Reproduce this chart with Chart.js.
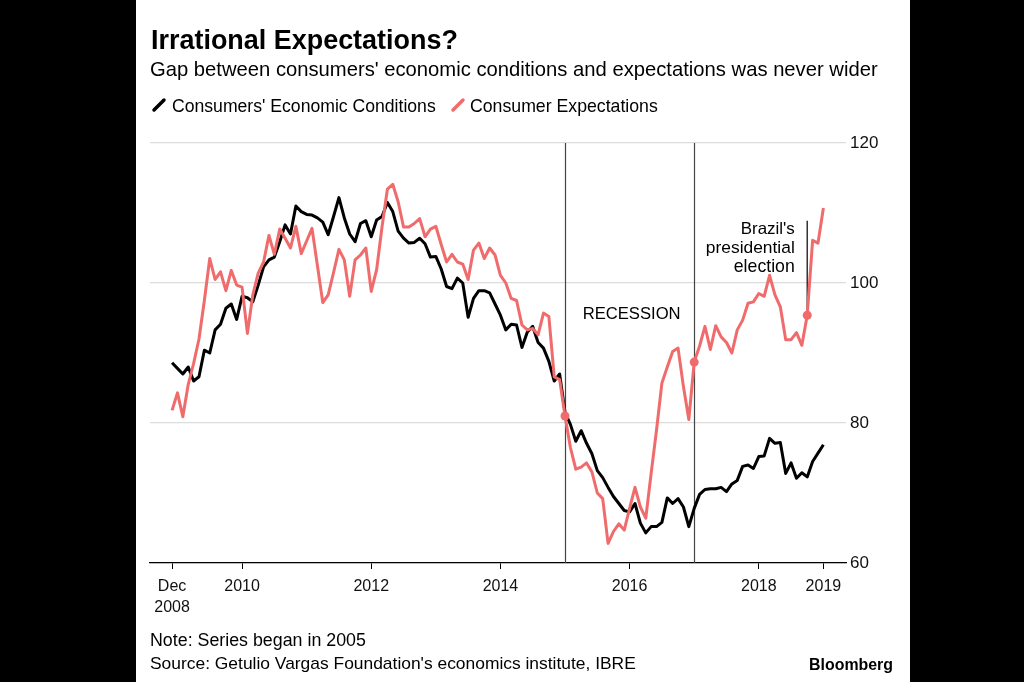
<!DOCTYPE html>
<html>
<head>
<meta charset="utf-8">
<script src="https://cdn.jsdelivr.net/npm/chart.js@4.4.1/dist/chart.umd.min.js"></script>
<style>
html,body{margin:0;padding:0;background:#000;width:1024px;height:682px;overflow:hidden;}
canvas{display:block;}
</style>
</head>
<body>
<canvas id="c" width="1024" height="682"></canvas>
<script>
// ---- data (monthly, Dec 2008 .. Jan 2019) ----
const startYear = 2008, startMonth = 12;
const conditions = [
 88.6,87.8,87.0,88.0,86.0,86.6,90.4,90.0,93.3,94.1,96.4,97.0,
 94.8,98.1,97.9,97.3,99.7,102.3,103.3,103.7,105.9,108.3,107.0,111.0,
 110.2,109.8,109.7,109.3,108.7,106.9,109.5,112.2,109.3,107.0,105.9,108.5,
 108.9,106.6,109.0,109.5,111.5,110.2,107.4,106.4,105.7,105.8,106.4,105.6,
 103.7,103.8,102.0,99.5,99.2,100.7,100.0,95.1,97.8,98.9,98.9,98.6,
 97.0,95.4,93.3,94.1,94.0,90.8,93.0,93.8,91.5,90.7,88.8,86.0,
 87.0,81.5,79.8,77.4,78.9,77.1,75.6,73.2,72.2,70.8,69.5,68.5,
 67.5,67.3,68.5,65.7,64.3,65.2,65.2,65.8,69.3,68.5,69.2,68.0,
 65.2,67.8,69.8,70.5,70.6,70.6,70.8,70.2,71.3,71.8,73.8,74.0,
 73.5,75.2,75.3,77.8,77.1,77.2,72.8,74.3,72.1,72.9,72.3,74.5,
 75.7,76.9
];
const expectations = [
 81.8,84.3,80.9,85.5,88.5,92.0,97.5,103.5,100.5,101.6,98.9,101.8,
 99.7,99.4,92.8,98.3,101.4,103.0,106.8,104.1,107.7,106.4,105.0,108.1,
 104.2,106.0,107.8,102.5,97.2,98.3,101.5,104.8,103.3,98.1,103.3,104.0,
 105.0,98.8,101.9,108.0,113.4,114.1,111.6,108.0,108.0,108.5,109.2,106.6,
 107.7,108.1,105.5,103.0,104.1,103.0,102.7,100.5,104.7,105.7,103.5,105.0,
 104.0,101.1,100.0,97.8,97.5,94.0,93.3,93.5,92.6,95.7,95.2,86.6,
 86.2,81.0,76.5,73.4,73.7,74.3,73.0,70.0,69.2,62.8,64.5,65.6,
 64.7,67.8,70.8,68.0,66.4,72.8,79.0,85.7,88.0,90.2,90.7,85.2,
 80.5,88.7,91.0,93.8,90.5,93.9,92.3,91.5,90.0,93.3,94.7,97.1,
 97.3,98.5,98.1,101.1,98.3,96.6,91.9,91.9,92.9,91.1,95.4,106.1,
 105.7,110.7
];
const markerMonths = ["2015-01","2017-01","2018-10"];
const recessionMonths = ["2015-01","2017-01"];
const electionMonth = "2018-10";
const tickMonths = ["2008-12","2010-01","2012-01","2014-01","2016-01","2018-01","2019-01"];
const tickLabels = [["Dec","2008"],"2010","2012","2014","2016","2018","2019"];
const yTicks = [60,80,100,120];

// month categories
const months = [];
for (let i = 0; i < conditions.length; i++) {
  const m0 = startMonth - 1 + i;
  const y = startYear + Math.floor(m0 / 12);
  const m = (m0 % 12) + 1;
  months.push(y + "-" + String(m).padStart(2, "0"));
}
const idx = s => months.indexOf(s);
const markerIdx = markerMonths.map(idx);

const FAM = '"Liberation Sans", Arial, Helvetica, sans-serif';
const RED = '#f06b6b';

function fitText(ctx, text, x, y, targetW, weight, align) {
  ctx.font = weight + ' 20px ' + FAM;
  const w = ctx.measureText(text).width;
  const size = 20 * targetW / w;
  ctx.font = weight + ' ' + size.toFixed(2) + 'px ' + FAM;
  ctx.textAlign = align || 'left';
  ctx.textBaseline = 'alphabetic';
  ctx.fillText(text, x, y);
}

const bgPlugin = {
  id: 'bg',
  beforeDraw(chart) {
    const c = chart.ctx;
    c.save();
    c.fillStyle = '#000';
    c.fillRect(0, 0, chart.width, chart.height);
    c.fillStyle = '#fff';
    c.fillRect(136, 0, 774, chart.height);
    c.restore();
  }
};

const annoPlugin = {
  id: 'anno',
  beforeDatasetsDraw(chart) {
    const c = chart.ctx, xs = chart.scales.x, ys = chart.scales.y, a = chart.chartArea;
    c.save();
    c.strokeStyle = '#444';
    c.lineWidth = 1.2;
    recessionMonths.forEach(m => {
      const px = Math.round(xs.getPixelForValue(idx(m))) + 0.5;
      c.beginPath(); c.moveTo(px, a.top); c.lineTo(px, a.bottom); c.stroke();
    });
    const ei = idx(electionMonth);
    const ex = xs.getPixelForValue(ei);
    c.strokeStyle = '#333';
    c.lineWidth = 1.5;
    c.beginPath(); c.moveTo(ex, ys.getPixelForValue(108.9)); c.lineTo(ex, ys.getPixelForValue(expectations[ei])); c.stroke();
    c.restore();
  },
  afterDraw(chart) {
    const c = chart.ctx, xs = chart.scales.x, ys = chart.scales.y;
    c.save();
    c.fillStyle = '#000';
    // title, subtitle
    fitText(c, 'Irrational Expectations?', 151, 49, 307, 'bold');
    fitText(c, "Gap between consumers' economic conditions and expectations was never wider", 150, 76, 728, 'normal');
    // legend
    c.lineCap = 'round';
    c.lineWidth = 3.5;
    c.strokeStyle = '#000';
    c.beginPath(); c.moveTo(154, 110); c.lineTo(164, 100); c.stroke();
    c.strokeStyle = RED;
    c.beginPath(); c.moveTo(453, 110); c.lineTo(463, 100); c.stroke();
    c.fillStyle = '#000';
    fitText(c, "Consumers' Economic Conditions", 172, 111.5, 264, 'normal');
    fitText(c, "Consumer Expectations", 470, 111.5, 188, 'normal');
    // annotations
    const r0 = xs.getPixelForValue(idx(recessionMonths[0]));
    const r1 = xs.getPixelForValue(idx(recessionMonths[1]));
    fitText(c, 'RECESSION', (r0 + r1) / 2 + 2, 319, 98, 'normal', 'center');
    const tx = xs.getPixelForValue(idx(electionMonth)) - 12.5;
    fitText(c, "Brazil's", tx, 233.5, 54, 'normal', 'right');
    fitText(c, 'presidential', tx, 252.5, 89, 'normal', 'right');
    fitText(c, 'election', tx, 271.5, 61, 'normal', 'right');
    // footer
    fitText(c, 'Note: Series began in 2005', 150, 646, 216, 'normal');
    fitText(c, "Source: Getulio Vargas Foundation's economics institute, IBRE", 150, 669, 486, 'normal');
    fitText(c, 'Bloomberg', 893, 669.5, 84, 'bold', 'right');
    c.restore();
  }
};

const toXY = arr => arr.map((v, i) => ({ x: i, y: v }));

new Chart(document.getElementById('c'), {
  type: 'line',
  data: {
    datasets: [
      {
        label: 'Consumer Expectations',
        data: toXY(expectations),
        borderColor: RED,
        backgroundColor: RED,
        borderWidth: 3,
        borderJoinStyle: 'round',
        tension: 0,
        pointRadius: ctx => markerIdx.includes(ctx.dataIndex) ? 4.5 : 0,
        pointBackgroundColor: RED,
        pointBorderWidth: 0
      },
      {
        label: "Consumers' Economic Conditions",
        data: toXY(conditions),
        borderColor: '#000',
        backgroundColor: '#000',
        borderWidth: 3,
        borderJoinStyle: 'round',
        tension: 0,
        pointRadius: 0
      }
    ]
  },
  options: {
    responsive: false,
    animation: false,
    devicePixelRatio: 1,
    layout: { padding: { left: 150, top: 143, right: 128, bottom: 69 } },
    plugins: { legend: { display: false }, tooltip: { enabled: false } },
    scales: {
      x: {
        type: 'linear',
        min: -4.1,
        max: 125.2,
        afterBuildTicks: s => { s.ticks = tickMonths.map(m => ({ value: idx(m) })); },
        afterFit: s => { s.height = 50; },
        ticks: {
          autoSkip: false, maxRotation: 0, minRotation: 0,
          callback: (v, i) => tickLabels[i],
          font: { family: FAM, size: 16, lineHeight: 1.3 },
          color: '#111',
          padding: 7
        },
        grid: { drawOnChartArea: false, drawTicks: true, tickLength: 6, color: '#000', lineWidth: 1 },
        border: { display: true, color: '#000', width: 1.2 }
      },
      y: {
        position: 'right',
        min: 60, max: 120,
        afterBuildTicks: s => { s.ticks = yTicks.map(v => ({ value: v })); },
        afterFit: s => { s.width = 50; },
        ticks: { font: { family: FAM, size: 17 }, color: '#111', padding: 4 },
        grid: { color: '#dcdcdc', lineWidth: 1.2, drawTicks: false },
        border: { display: false }
      }
    }
  },
  plugins: [bgPlugin, annoPlugin]
});
</script>
</body>
</html>
